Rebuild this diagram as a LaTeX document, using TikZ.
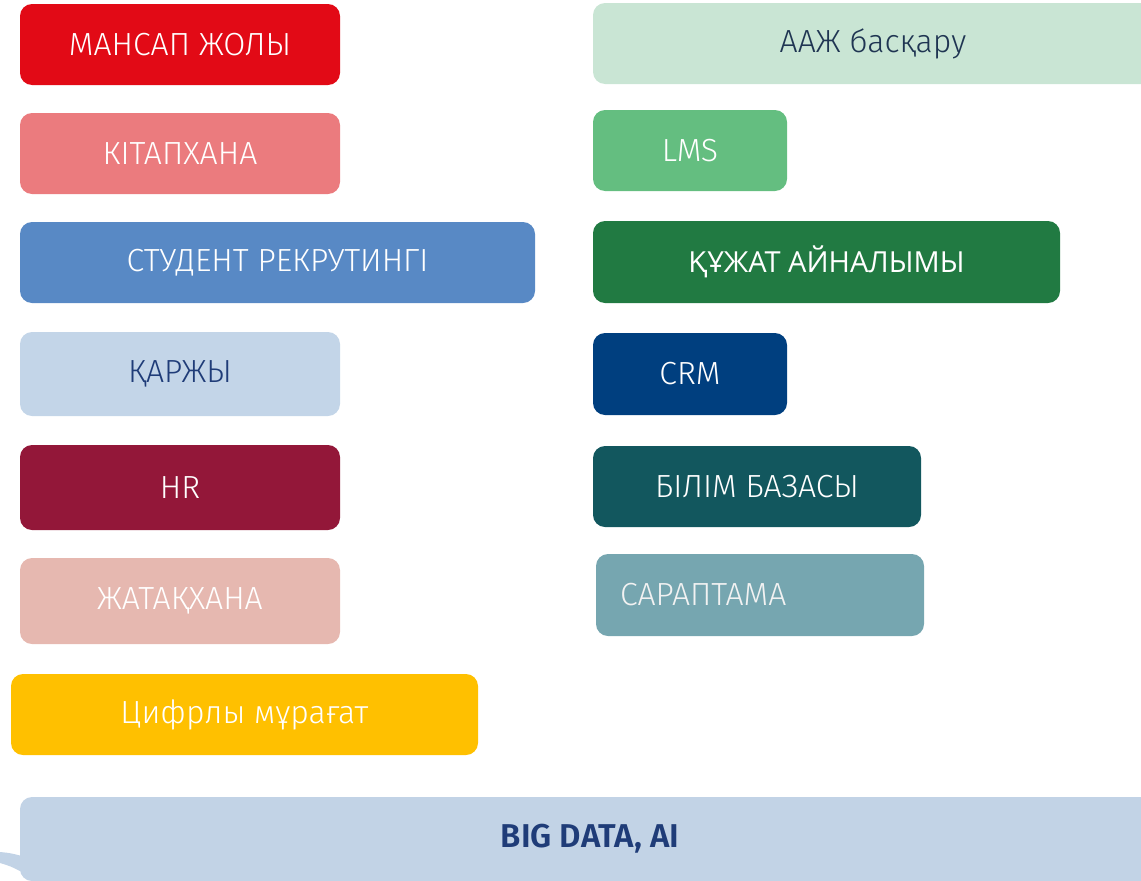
\documentclass[tikz,border=0pt]{standalone}
\usepackage{fontspec}
\setmainfont{Fira Sans}[UprightFont=* Light, BoldFont=* SemiBold]
\newfontfamily\opensans{Open Sans}
\definecolor{mansapred}{HTML}{E20A16}
\definecolor{kitappink}{HTML}{EB7B7E}
\definecolor{rekrutblue}{HTML}{5889C5}
\definecolor{qarzhyblue}{HTML}{C3D5E8}
\definecolor{hrwine}{HTML}{931739}
\definecolor{zhataqrose}{HTML}{E6B8B0}
\definecolor{muragatgold}{HTML}{FFC000}
\definecolor{bigdatablue}{HTML}{C2D3E6}
\definecolor{aazhmint}{HTML}{C9E5D4}
\definecolor{lmsgreen}{HTML}{64BE80}
\definecolor{qujatgreen}{HTML}{217A42}
\definecolor{crmnavy}{HTML}{003F7F}
\definecolor{bilimteal}{HTML}{12575E}
\definecolor{saraptealgray}{HTML}{76A6B0}
\definecolor{inkblue}{HTML}{1F3C78}
\definecolor{inkdark}{HTML}{1F3552}
\begin{document}
\begin{tikzpicture}[x=1pt,y=-1pt]
    \tikzstyle{tile}=[rounded corners=12pt,inner sep=0pt,text=white,font=\fontsize{32}{36}\selectfont,minimum height=81pt]
    \useasboundingbox (0,0) rectangle (1141,881);
    % left column
    \node[tile,fill=mansapred,minimum width=320pt] (mansap) at (180,44.5) {МАНСАП ЖОЛЫ};
    \node[tile,fill=kitappink,minimum width=320pt] (kitap) at (180,153.5) {КІТАПХАНА};
    \node[tile,fill=rekrutblue,minimum width=515pt] (rekrut) at (277.5,262.5) {СТУДЕНТ РЕКРУТИНГІ};
    \node[tile,fill=qarzhyblue,minimum width=320pt,minimum height=84pt,text=inkblue] (qarzhy) at (180,374) {ҚАРЖЫ};
    \node[tile,fill=hrwine,minimum width=320pt,minimum height=85pt] (hr) at (180,487.5) {HR};
    \node[tile,fill=zhataqrose,minimum width=320pt,minimum height=86pt] (zhataq) at (180,601) {ЖАТАҚХАНА};
    \node[tile,fill=muragatgold,minimum width=467pt] (muragat) at (244.5,714.5) {Цифрлы мұрағат};
    % right column
    \node[tile,fill=aazhmint,minimum width=560pt,text=inkdark] (aazh) at (873,43.5) {ААЖ басқару};
    \node[tile,fill=lmsgreen,minimum width=194pt] (lms) at (690,150.5) {LMS};
    \node[tile,fill=qujatgreen,minimum width=467pt,minimum height=82pt,font=\opensans\fontsize{29}{34}\selectfont] (qujat) at (826.5,262) {ҚҰЖАТ АЙНАЛЫМЫ};
    \node[tile,fill=crmnavy,minimum width=194pt,minimum height=82pt] (crm) at (690,374) {CRM};
    \node[tile,fill=bilimteal,minimum width=328pt] (bilim) at (757,486.5) {БІЛІМ БАЗАСЫ};
    \node[tile,fill=saraptealgray,minimum width=328pt,minimum height=82pt,text=white!90!gray,
      text width=280pt,align=left] (sarap) at (760,595) {САРАПТАМА};
    % base
    \node[tile,fill=bigdatablue,minimum width=1140pt,minimum height=84pt,text=inkblue,
      font=\bfseries\fontsize{33}{38}\selectfont] (bigdata) at (590,839) {BIG DATA, AI};
    \fill[bigdatablue] (0,852) .. controls (10,853) .. (22,856) -- (22,872)
      .. controls (10,866) .. (0,863) -- cycle;
\end{tikzpicture}
\end{document}
